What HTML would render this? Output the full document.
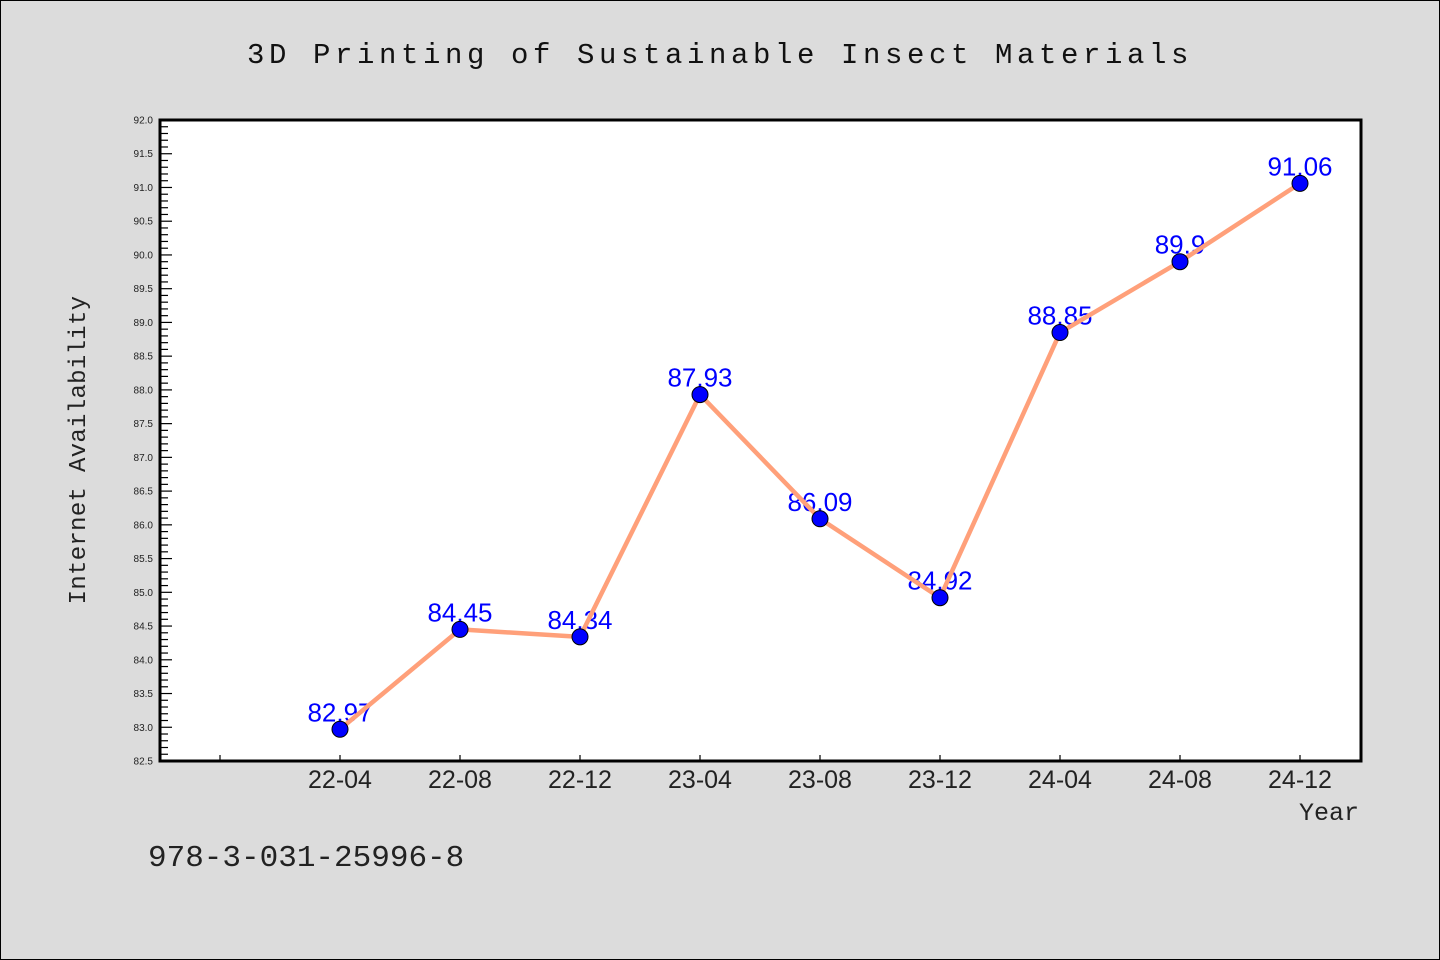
<!DOCTYPE html>
<html><head><meta charset="utf-8"><style>
html,body{margin:0;padding:0;background:#dcdcdc;}
svg{display:block;}
text{font-family:"Liberation Sans","WenQuanYi Zen Hei",sans-serif;}
.mono{font-family:"Liberation Mono","WenQuanYi Zen Hei",monospace;}
</style></head><body>
<svg id="chart" width="1440" height="960" viewBox="0 0 1440 960">
<rect x="0.5" y="0.5" width="1439" height="959" fill="#dcdcdc" stroke="#000" stroke-width="1"/>
<text x="720" y="63" text-anchor="middle" class="mono" font-size="29" letter-spacing="4.6" fill="#111">3D Printing of Sustainable Insect Materials</text>
<rect x="160" y="120" width="1201" height="641" fill="#fff"/>
<g id="yticks"></g>
<g id="xticks"></g>
<g id="labels"></g>
<g id="series"></g>
<rect x="160" y="120" width="1201" height="641" fill="none" stroke="#000" stroke-width="3"/>
<text transform="translate(85,450) rotate(-90)" text-anchor="middle" class="mono" font-size="24" letter-spacing="0.3" fill="#222">Internet Availability</text>
<text x="1359" y="820" text-anchor="end" class="mono" font-size="25" fill="#222">Year</text>
<text x="148" y="866" class="mono" font-size="31" fill="#222">978-3-031-25996-8</text>
</svg>
<script>
const categories = ["22-04","22-08","22-12","23-04","23-08","23-12","24-04","24-08","24-12"];
const values = [82.97,84.45,84.34,87.93,86.09,84.92,88.85,89.9,91.06];
const valueLabels = ["82.97","84.45","84.34","87.93","86.09","84.92","88.85","89.9","91.06"];
const yMin = 82.5, yMax = 92.0;
const NS="http://www.w3.org/2000/svg";
const plotTop=120,plotBottom=761,plotLeft=160;
function ys(v){return plotBottom-(v-yMin)/(yMax-yMin)*(plotBottom-plotTop);}
function xs(i){return 340+i*120;}
function mk(tag,attrs,parent){const e=document.createElementNS(NS,tag);for(const k in attrs)e.setAttribute(k,attrs[k]);parent.appendChild(e);return e;}
const yg=document.getElementById('yticks');
for(let k=0;k<=95;k++){
  const v=yMin+k*0.1;const y=ys(v);const major=k%5===0;
  const t=mk('line',{x1:plotLeft,x2:plotLeft+(major?12:8),y1:y,y2:y,stroke:'#000','stroke-width':1.2},yg);
  
  
  if(major){
    const l=mk('text',{x:plotLeft-7,y:y+3.5,'text-anchor':'end','font-size':10,fill:'#222'},yg);
    l.textContent=v.toFixed(1);
    
    
  }
}
const xg=document.getElementById('xticks');
for(let i=-1;i<categories.length;i++){
  const x=xs(i);
  const t=mk('line',{x1:x,x2:x,y1:plotBottom,y2:plotBottom-6,stroke:'#000','stroke-width':1.2},xg);
  
  
  if(i>=0){
    const l=mk('text',{x:x,y:plotBottom+27,'text-anchor':'middle','font-size':25,fill:'#222'},xg);
    l.textContent=categories[i];
    
    
  }
}
const lg=document.getElementById('labels');
values.forEach((v,i)=>{
  const l=mk('text',{x:xs(i),y:ys(v)-8,'text-anchor':'middle','font-size':26,fill:'#0000ff'},lg);
  l.textContent=valueLabels[i];
  
  
});
const sg=document.getElementById('series');
const pl=mk('polyline',{points:values.map((v,i)=>xs(i)+','+ys(v)).join(' '),fill:'none',stroke:'#ffa07a','stroke-width':4.5,'stroke-linejoin':'round'},sg);


values.forEach((v,i)=>{
  const c=mk('circle',{cx:xs(i),cy:ys(v),r:8,fill:'#0000ff',stroke:'#000','stroke-width':1},sg);
  
  
});
</script>
</body></html>
